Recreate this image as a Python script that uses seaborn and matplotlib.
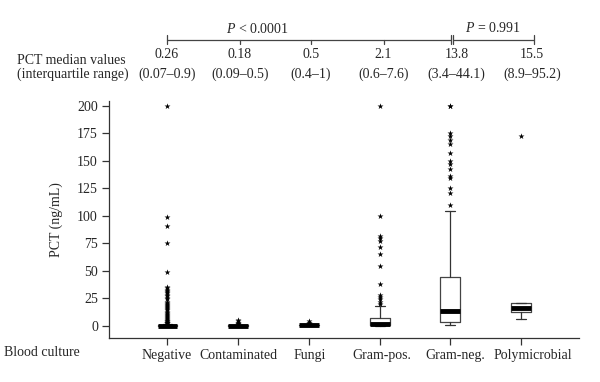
import pandas as pd
import seaborn as sns
import matplotlib.pyplot as plt
from matplotlib.transforms import ScaledTranslation

# categories and summary values
groups = ["Negative", "Contaminated", "Fungi", "Gram-pos.", "Gram-neg.", "Polymicrobial"]
medians = [0.26, 0.18, 0.5, 2.1, 13.8, 16.0]
q1 = [0.07, 0.09, 0.4, 0.6, 3.4, 12.7]
q3 = [0.9, 0.5, 1.0, 7.6, 44.1, 20.5]
whisk_lo = [0.0, 0.0, 0.1, 0.1, 1.0, 6.5]
whisk_hi = [2.1, 1.1, 1.9, 18.0, 104.0, 20.5]

# outliers per group
fl_negative = [200, 99, 91, 75, 49, 35, 34, 33, 32, 31, 30, 28, 27, 25, 24, 22, 21,
               20, 19, 18, 17, 16, 15, 14, 13, 12, 11, 10, 9, 8, 7, 6, 5, 4.5, 4,
               3.5, 3, 2.8, 2.5, 2.3]
fl_contaminated = [1.5, 2, 2.5, 3, 4, 5]
fl_fungi = [2, 2.5, 3, 4]
fl_grampos = [200, 100, 82, 80, 77, 72, 65, 54, 38, 28, 26, 24, 22, 20]
fl_gramneg = [200, 200, 175, 172, 169, 165, 157, 150, 147, 142, 136, 134, 125, 121, 110]
fl_poly = [172]

# header text
median_labels = ["0.26", "0.18", "0.5", "2.1", "13.8", "15.5"]
iqr_labels = ["(0.07\u20130.9)", "(0.09\u20130.5)", "(0.4\u20131)", "(0.6\u20137.6)",
              "(3.4\u201344.1)", "(8.9\u201395.2)"]
y_ticks = [0, 25, 50, 75, 100, 125, 150, 175, 200]

sns.set_style("ticks")
plt.rcParams['font.family'] = ['Liberation Serif', 'DejaVu Serif']
plt.rcParams['mathtext.fontset'] = 'custom'
plt.rcParams['mathtext.it'] = 'Liberation Serif:italic'
plt.rcParams['mathtext.rm'] = 'Liberation Serif'
fs = 10

fig = plt.figure(figsize=(6, 3.82), dpi=100)
ax = fig.add_axes([109 / 600, 1 - 338 / 382, 470 / 600, 236.5 / 382])

fliers = [fl_negative, fl_contaminated, fl_fungi, fl_grampos, fl_gramneg, fl_poly]
df = pd.DataFrame({
    "group": [g for g, fl in zip(groups, fliers) for _ in fl],
    "pct": [v for fl in fliers for v in fl],
})
sns.stripplot(data=df, x="group", y="pct", order=groups, jitter=False,
              marker="*", color="black", size=4.5, linewidth=0, ax=ax, zorder=3)

stats = [dict(med=m, q1=a, q3=b, whislo=lo, whishi=hi, fliers=[])
         for m, a, b, lo, hi in zip(medians, q1, q3, whisk_lo, whisk_hi)]
ax.bxp(stats, positions=range(len(groups)), widths=0.28, showfliers=False,
       boxprops=dict(color="#444444", linewidth=0.9),
       whiskerprops=dict(color="#333333", linewidth=0.9),
       capprops=dict(color="#333333", linewidth=0.9),
       medianprops=dict(color="black", linewidth=3.5, solid_capstyle="butt"),
       capwidths=0.14, manage_ticks=False)

ax.set_xlim(-0.827, 5.82)
ax.set_ylim(-11, 203.7)
ax.set_yticks(y_ticks)
ax.set_xticks(range(len(groups)))
ax.set_xticklabels(groups)
ax.tick_params(axis="both", labelsize=fs, length=5, width=0.9, color="#333333", pad=3)
# the category names sit a bit right of their ticks, drifting with the header columns
shifts = [-0.8, 0.6, 1.1, 2.7, 5.2, 12]
for lab, dx in zip(ax.get_xticklabels(), shifts):
    lab.set_transform(lab.get_transform() + ScaledTranslation(dx / 100, 0, fig.dpi_scale_trans))
for s in ["top", "right"]:
    ax.spines[s].set_visible(False)
for s in ["left", "bottom"]:
    ax.spines[s].set_color("#333333")
    ax.spines[s].set_linewidth(0.9)
ax.set_xlabel("")
ax.set_ylabel("PCT (ng/mL)", fontsize=fs)
ax.yaxis.set_label_coords(-0.098, 0.5)

# overlay in pixel coordinates for the header and row labels
ov = fig.add_axes([0, 0, 1, 1])
ov.set_xlim(0, 600)
ov.set_ylim(382, 0)
ov.axis("off")

head_x = [167, 240, 311, 383.5, 456.5, 532]
for x, m, q in zip(head_x, median_labels, iqr_labels):
    ov.text(x, 55, m, ha="center", va="center", fontsize=fs)
    ov.text(x, 74, q, ha="center", va="center", fontsize=fs)
ov.text(17, 61, "PCT median values", ha="left", va="center", fontsize=fs)
ov.text(17, 74, "(interquartile range)", ha="left", va="center", fontsize=fs)
ov.text(4, 352, "Blood culture", ha="left", va="center", fontsize=fs)

lc = dict(color="#444444", linewidth=0.9)
ov.plot([167, 450.5], [39.5, 39.5], **lc)
ov.plot([453, 534], [39.5, 39.5], **lc)
for x in [167, 450.5, 453, 534]:
    ov.plot([x, x], [35, 44], **lc)
for x in head_x[1:4]:
    ov.plot([x, x], [39.5, 44], **lc)
ov.text(257, 29, "$P$ < 0.0001", ha="center", va="center", fontsize=fs)
ov.text(493, 27.5, "$P$ = 0.991", ha="center", va="center", fontsize=fs)

plt.savefig("out.png", dpi=100)
